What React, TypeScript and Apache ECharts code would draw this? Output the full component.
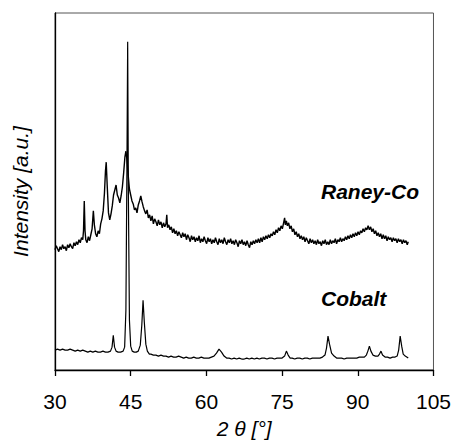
import React, { useEffect, useRef } from "react";
import * as echarts from "echarts";

const xTicks = [30, 45, 60, 75, 90, 105];

const raneyCo: [number, number][] = [
  [30,121],[30.25,125],[30.5,122],[30.75,119],[31,124],[31.25,121],[31.5,126],[31.75,122],[32,124],[32.25,120],[32.5,126],[32.75,123],[33,127],[33.25,124],[33.5,122],[33.75,128],[34,125],[34.25,129],[34.5,126],[34.75,131],[35,128],[35.25,133],[35.5,131],[35.65,140],[35.8,170],[35.95,140],[36.1,131],[36.35,128],[36.6,134],[36.85,130],[37.1,136],[37.35,142],[37.6,160],[37.8,146],[38.05,137],[38.3,134],[38.55,140],[38.8,137],[39.05,147],[39.3,152],[39.55,160],[39.8,178],[40,200],[40.15,209],[40.35,185],[40.6,158],[40.85,151],[41.1,157],[41.35,165],[41.6,176],[41.85,181],[42.1,186],[42.35,176],[42.6,173],[42.85,168],[43.1,175],[43.35,184],[43.6,198],[43.85,214],[44.05,220],[44.25,212],[44.5,196],[44.75,182],[45,176],[45.25,170],[45.5,167],[45.75,161],[46,163],[46.25,158],[46.5,166],[46.75,170],[47,175],[47.25,169],[47.5,164],[47.75,160],[48,157],[48.25,161],[48.5,153],[48.75,156],[49,150],[49.25,155],[49.5,147],[49.75,152],[50,149],[50.25,145],[50.5,151],[50.75,146],[51,149],[51.25,143],[51.5,148],[51.75,144],[52,147],[52.15,156],[52.3,143],[52.55,146],[52.8,141],[53.05,144],[53.3,138],[53.55,142],[53.8,137],[54.05,140],[54.3,135],[54.55,139],[54.8,136],[55.05,133],[55.3,138],[55.55,134],[55.8,137],[56.05,131],[56.3,136],[56.55,133],[56.8,129],[57.05,135],[57.3,131],[57.55,134],[57.8,129],[58.05,133],[58.3,130],[58.55,135],[58.8,128],[59.05,132],[59.3,129],[59.55,134],[59.8,130],[60.05,127],[60.3,133],[60.55,129],[60.8,132],[61.05,127],[61.3,131],[61.55,128],[61.8,133],[62.05,129],[62.3,126],[62.55,132],[62.8,128],[63.05,131],[63.3,127],[63.55,133],[63.8,129],[64.05,126],[64.3,131],[64.55,128],[64.8,132],[65.05,127],[65.3,130],[65.55,126],[65.8,131],[66.05,128],[66.3,124],[66.55,130],[66.8,127],[67.05,131],[67.3,126],[67.55,129],[67.8,125],[68.05,130],[68.3,126],[68.55,123],[68.8,129],[69.05,126],[69.3,130],[69.55,127],[69.8,131],[70.05,128],[70.3,132],[70.55,128],[70.8,133],[71.05,129],[71.3,134],[71.55,131],[71.8,135],[72.05,132],[72.3,136],[72.55,133],[72.8,137],[73.05,135],[73.3,139],[73.55,136],[73.8,141],[74.05,138],[74.3,143],[74.55,140],[74.8,145],[75.05,142],[75.3,148],[75.5,153],[75.65,146],[75.85,150],[76.05,145],[76.3,148],[76.55,142],[76.8,145],[77.05,139],[77.3,142],[77.55,136],[77.8,139],[78.05,134],[78.3,137],[78.55,132],[78.8,135],[79.05,131],[79.3,134],[79.55,129],[79.8,133],[80.05,130],[80.3,127],[80.55,132],[80.8,128],[81.05,131],[81.3,127],[81.55,130],[81.8,126],[82.05,131],[82.3,127],[82.55,129],[82.8,125],[83.05,130],[83.3,127],[83.55,131],[83.8,126],[84.05,129],[84.3,126],[84.55,131],[84.8,127],[85.05,130],[85.3,128],[85.55,132],[85.8,127],[86.05,131],[86.3,129],[86.55,133],[86.8,129],[87.05,132],[87.3,130],[87.55,134],[87.8,131],[88.05,135],[88.3,132],[88.55,136],[88.8,133],[89.05,137],[89.3,134],[89.55,138],[89.8,135],[90.05,139],[90.3,136],[90.55,140],[90.8,138],[91.05,142],[91.3,139],[91.55,143],[91.8,141],[92.05,145],[92.3,141],[92.55,144],[92.8,139],[93.05,142],[93.3,137],[93.55,140],[93.8,135],[94.05,138],[94.3,134],[94.55,137],[94.8,132],[95.05,136],[95.3,132],[95.55,135],[95.8,130],[96.05,134],[96.3,131],[96.55,133],[96.8,129],[97.05,133],[97.3,130],[97.55,132],[97.8,128],[98.05,132],[98.3,129],[98.55,131],[98.8,127],[99.05,131],[99.3,128],[99.55,130],[99.8,126],[100,129]
];

const cobalt: [number, number][] = [
  [30,20],[30.5,21],[31,20],[31.5,21],[32,20],[32.5,20],[33,21],[33.5,20],[34,19],[34.5,20],[35,19],[35.5,20],[36,19],[36.5,18],[37,19],[37.5,18],[38,19],[38.5,18],[39,18],[39.5,19],[40,18],[40.5,18],[41,19],[41.3,23],[41.55,35],[41.8,23],[42.1,19],[42.5,18],[43,18],[43.5,19],[43.8,23],[44.05,60],[44.25,200],[44.4,330],[44.55,170],[44.75,50],[45,24],[45.3,19],[45.7,18],[46.1,18],[46.5,19],[46.9,25],[47.2,45],[47.45,70],[47.7,48],[48,26],[48.3,19],[48.7,16],[49,16],[49.5,15],[50,15],[50.5,14],[51,15],[51.5,14],[52,14],[52.5,13],[53,14],[53.5,13],[54,13],[54.5,14],[55,13],[55.5,12],[56,13],[56.5,12],[57,12],[57.5,13],[58,12],[58.5,12],[59,13],[59.5,12],[60,12],[60.5,12],[61,13],[61.5,14],[62,17],[62.5,21],[63,18],[63.5,14],[64,12],[64.5,12],[65,11],[65.5,12],[66,11],[66.5,12],[67,11],[67.5,11],[68,12],[68.5,11],[69,12],[69.5,11],[70,12],[70.5,11],[71,12],[71.5,12],[72,11],[72.5,12],[73,12],[73.5,11],[74,12],[74.5,12],[75,12],[75.5,14],[75.85,19],[76.2,15],[76.6,12],[77,12],[77.5,11],[78,12],[78.5,12],[79,11],[79.5,12],[80,12],[80.5,11],[81,12],[81.5,12],[82,12],[82.5,12],[83,13],[83.5,15],[83.8,22],[84.1,34],[84.4,26],[84.8,17],[85.3,14],[85.8,12],[86.3,12],[86.8,12],[87.3,11],[87.8,12],[88.3,12],[88.8,12],[89.3,12],[89.8,12],[90.3,13],[90.8,13],[91.3,13],[91.7,15],[92,19],[92.3,24],[92.6,19],[93,15],[93.5,14],[94,14],[94.3,16],[94.6,19],[94.9,15],[95.4,13],[95.9,13],[96.4,12],[96.9,13],[97.4,13],[97.8,14],[98.1,20],[98.4,34],[98.7,24],[99,16],[99.4,14],[99.7,13],[100,12]
];

const seriesLabels = ["Raney-Co", "Cobalt"];
const xTitle = "2 θ [°]";
const yTitle = "Intensity [a.u.]";

const FONT = "'Liberation Sans', Arial, sans-serif";

export default function App() {
  const ref = useRef<HTMLDivElement>(null);
  useEffect(() => {
    if (!ref.current) return;
    const chart = echarts.init(ref.current, undefined, { renderer: "svg" });
    chart.setOption({
      animation: false,
      backgroundColor: "#ffffff",
      grid: {
        left: 55, top: 13, width: 379, height: 359,
        show: true, borderColor: "#555", borderWidth: 1, backgroundColor: "transparent",
      },
      xAxis: {
        type: "value", min: xTicks[0], max: xTicks[xTicks.length - 1], interval: 15,
        name: xTitle, nameLocation: "middle", nameGap: 48,
        nameTextStyle: { fontFamily: FONT, fontSize: 21, fontStyle: "italic", color: "#000" },
        axisLine: { show: true, onZero: false, lineStyle: { color: "#000", width: 1.3 } },
        axisTick: { show: true, inside: false, length: 6, lineStyle: { color: "#000", width: 1.3 } },
        axisLabel: { fontFamily: FONT, fontSize: 21, color: "#000", margin: 21 },
        splitLine: { show: false },
      },
      yAxis: {
        type: "value", min: 0, max: 359,
        name: yTitle, nameLocation: "middle", nameGap: 24,
        nameTextStyle: { fontFamily: FONT, fontSize: 21, fontStyle: "italic", color: "#000" },
        axisLine: { show: true, onZero: false, lineStyle: { color: "#000", width: 1.3 } },
        axisTick: { show: false },
        axisLabel: { show: false },
        splitLine: { show: false },
      },
      series: [
        {
          name: seriesLabels[0], type: "line", data: raneyCo, showSymbol: false,
          lineStyle: { color: "#000", width: 1.4 }, silent: true,
        },
        {
          name: seriesLabels[1], type: "line", data: cobalt, showSymbol: false,
          lineStyle: { color: "#000", width: 1.2 }, silent: true,
        },
      ],
      graphic: [
        {
          type: "text", left: 321, top: 181,
          style: { text: seriesLabels[0], font: `italic bold 21px ${FONT}`, fill: "#000" },
        },
        {
          type: "text", left: 321, top: 288,
          style: { text: seriesLabels[1], font: `italic bold 21px ${FONT}`, fill: "#000" },
        },
      ],
    });
    return () => chart.dispose();
  }, []);
  return <div ref={ref} style={{ position: "fixed", left: 0, top: 0, width: 454, height: 444 }} />;
}
